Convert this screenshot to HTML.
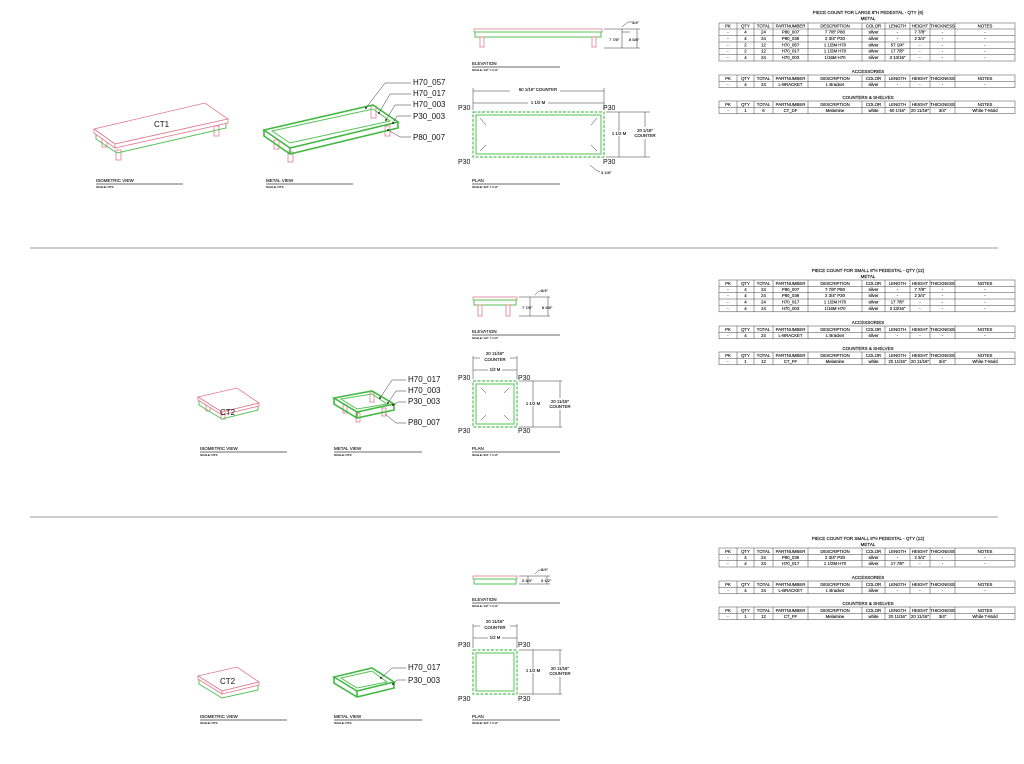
<!DOCTYPE html>
<html><head><meta charset="utf-8"><style>
html,body{margin:0;padding:0;background:#fff;}
svg{display:block}
text{font-family:"Liberation Sans",sans-serif;fill:#111}
.t{font-size:4.3px;text-anchor:middle;stroke:#111;stroke-width:0.12}
.h{font-size:4.5px;text-anchor:middle;stroke:#111;stroke-width:0.15}
.lb{font-size:8px}
.vl{font-size:7px}
.sc{font-size:3px;stroke:#111;stroke-width:0.1}
.pk{stroke:#e07a8e;fill:#fff;stroke-width:0.8}
.gr{stroke:#55c255;fill:none;stroke-width:1}
.grt{stroke:#44b844;fill:none;stroke-width:1.6}
.ln{stroke:#333;stroke-width:0.5;fill:none}
.ul{stroke:#888;stroke-width:1.2}
.tb{stroke:#444;stroke-width:0.5;fill:none}
.dash{stroke:#55c255;stroke-width:1.2;fill:none;stroke-dasharray:3 1.5}
</style></head><body>
<svg width="1024" height="764" viewBox="0 0 1024 764" xmlns="http://www.w3.org/2000/svg">
<rect width="1024" height="764" fill="#fff"/>
<line x1="30" y1="248" x2="998" y2="248" stroke="#999" stroke-width="1"/>
<line x1="30" y1="517" x2="998" y2="517" stroke="#999" stroke-width="1"/>

<!-- SECTION 1 -->
<rect x="102" y="138" width="5" height="9" class="pk"/>
<rect x="116" y="150" width="5" height="10" class="pk"/>
<rect x="214" y="126" width="5" height="10" class="pk"/>
<polygon points="96,133 117,147 226,122 226,128 117,153 96,139" class="gr" fill="#fff"/>
<polygon points="94,129 205,103 228,119 115,144" class="pk"/>
<polygon points="94,129 115,144 115,148 94,133" class="pk"/>
<polygon points="115,144 228,119 228,123 115,148" class="pk" fill="#f4c8d0"/>
<text x="154" y="127" class="lb">CT1</text>
<text x="96" y="182" class="sc" style="font-size:4.5px">ISOMETRIC VIEW</text>
<line x1="96" y1="184" x2="183" y2="184" class="ul"/>
<text x="96" y="188" class="sc">SCALE: NTS</text>

<rect x="274" y="140" width="5" height="9" class="pk"/>
<rect x="288" y="152" width="5" height="10" class="pk"/>
<rect x="371" y="106" width="5" height="12" class="pk"/>
<rect x="385" y="126" width="5" height="10" class="pk"/>
<polygon points="264,130 373,105 398,122 290,148" class="grt"/>
<polygon points="272,131 373,109 390,121 290,143" class="gr"/>
<polyline points="264,130 264,136 290,154 398,128 398,122" class="grt"/>
<line x1="290" y1="148" x2="290" y2="154" class="grt"/>
<g class="ln">
<polyline points="411,83 385,83 366,108"/>
<polyline points="411,94 390,94 379,113"/>
<polyline points="411,105 395,105 386,120"/>
<polyline points="411,116 397,116 393,123"/>
<polyline points="411,137 400,137 388,130"/>
</g>
<circle cx="366" cy="108" r="0.9" fill="#000"/><circle cx="379" cy="113" r="0.9" fill="#000"/><circle cx="386" cy="120" r="0.9" fill="#000"/><circle cx="393" cy="123" r="0.9" fill="#000"/><circle cx="388" cy="130" r="0.9" fill="#000"/>
<text x="413" y="85" class="lb">H70_057</text>
<text x="413" y="96" class="lb">H70_017</text>
<text x="413" y="107" class="lb">H70_003</text>
<text x="413" y="119" class="lb">P30_003</text>
<text x="413" y="140" class="lb">P80_007</text>
<text x="266" y="182" class="sc" style="font-size:4.5px">METAL VIEW</text>
<line x1="266" y1="184" x2="353" y2="184" class="ul"/>
<text x="266" y="188" class="sc">SCALE: NTS</text>

<rect x="474" y="29" width="128" height="3" class="pk"/>
<rect x="475" y="32" width="126" height="5" class="gr"/>
<rect x="480" y="37" width="4" height="10" class="pk"/>
<rect x="592" y="37" width="4" height="10" class="pk"/>
<g class="ln">
<line x1="604" y1="29" x2="640" y2="29"/><line x1="604" y1="48" x2="640" y2="48"/>
<line x1="622" y1="29" x2="622" y2="48"/><line x1="637" y1="29" x2="637" y2="48"/>
<line x1="622" y1="32" x2="630" y2="32"/><polyline points="622,27 628,22 632,22"/>
</g>
<text x="632" y="24" class="sc" style="font-size:4px">3/4"</text>
<text x="609" y="41" class="sc" style="font-size:4px">7 7/8"</text>
<text x="629" y="41" class="sc" style="font-size:4px">8 5/8"</text>
<text x="472" y="65" class="sc" style="font-size:4.5px">ELEVATION</text>
<line x1="472" y1="67" x2="560" y2="67" class="ul"/>
<text x="472" y="71" class="sc">SCALE: 1/2" = 1'-0"</text>

<rect x="473" y="112" width="131" height="45" class="dash"/>
<rect x="476" y="115" width="125" height="39" class="gr" stroke-width="0.6"/>
<g class="ln">
<line x1="473" y1="91" x2="604" y2="91"/><line x1="473" y1="103" x2="604" y2="103"/>
<line x1="473" y1="88" x2="473" y2="110"/><line x1="604" y1="88" x2="604" y2="110"/>
<line x1="606" y1="112" x2="650" y2="112"/><line x1="606" y1="157" x2="650" y2="157"/>
<line x1="619" y1="112" x2="619" y2="157"/><line x1="645" y1="112" x2="645" y2="157"/>
<polyline points="590,165 596,170 600,172"/>
<line x1="480" y1="118" x2="486" y2="125"/><line x1="597" y1="118" x2="591" y2="125"/>
<line x1="480" y1="151" x2="486" y2="145"/><line x1="597" y1="151" x2="591" y2="145"/>
</g>
<rect x="510" y="88" width="50" height="5" fill="#fff"/>
<text x="538" y="91" class="t">60 1/16" COUNTER</text>
<rect x="528" y="100" width="20" height="5" fill="#fff"/>
<text x="538" y="104" class="t">1 1/2 M</text>
<rect x="610" y="131" width="18" height="5" fill="#fff"/>
<text x="619" y="135" class="t">1 1/2 M</text>
<rect x="634" y="127" width="24" height="12" fill="#fff"/>
<text x="645" y="132" class="t">20 1/16"</text><text x="645" y="137" class="t">COUNTER</text>
<text x="601" y="174" class="sc" style="font-size:4px">3 1/8"</text>
<text x="458" y="110" class="vl">P30</text><text x="603" y="110" class="vl">P30</text>
<text x="458" y="164" class="vl">P30</text><text x="603" y="164" class="vl">P30</text>
<text x="472" y="182" class="sc" style="font-size:4.5px">PLAN</text>
<line x1="472" y1="184" x2="560" y2="184" class="ul"/>
<text x="472" y="188" class="sc">SCALE: 3/4" = 1'-0"</text>

<!-- SECTION 2 -->
<rect x="206" y="403" width="4" height="8" class="pk"/>
<rect x="221" y="410" width="4" height="9" class="pk"/>
<rect x="245" y="399" width="4" height="8" class="pk"/>
<polygon points="199,400 222,414 258,405 258,410 222,419 199,405" class="gr" fill="#fff"/>
<polygon points="198,397 237,388 259,403 222,412" class="pk"/>
<polygon points="198,397 222,412 222,415 198,400" class="pk"/>
<polygon points="222,412 259,403 259,406 222,415" class="pk" fill="#f4c8d0"/>
<text x="220" y="415" class="lb">CT2</text>
<text x="200" y="450" class="sc" style="font-size:4.5px">ISOMETRIC VIEW</text>
<line x1="200" y1="452" x2="287" y2="452" class="ul"/>
<text x="200" y="456" class="sc">SCALE: NTS</text>

<rect x="343" y="405" width="4" height="8" class="pk"/>
<rect x="356" y="413" width="4" height="9" class="pk"/>
<rect x="370" y="392" width="4" height="10" class="pk"/>
<rect x="382" y="408" width="4" height="8" class="pk"/>
<polygon points="334,398 372,391 394,404 357,412" class="grt"/>
<polygon points="341,399 372,394 387,404 357,409" class="gr"/>
<polyline points="334,398 334,404 357,418 394,410 394,404" class="grt"/>
<line x1="357" y1="412" x2="357" y2="418" class="grt"/>
<g class="ln">
<polyline points="406,380 392,380 380,398"/>
<polyline points="406,391 396,391 388,403"/>
<polyline points="406,402 398,402 393,405"/>
<polyline points="406,423 396,423 385,414"/>
</g>
<circle cx="380" cy="398" r="0.9" fill="#000"/><circle cx="388" cy="403" r="0.9" fill="#000"/><circle cx="393" cy="405" r="0.9" fill="#000"/>
<text x="408" y="382" class="lb">H70_017</text>
<text x="408" y="393" class="lb">H70_003</text>
<text x="408" y="404" class="lb">P30_003</text>
<text x="408" y="425" class="lb">P80_007</text>
<text x="334" y="450" class="sc" style="font-size:4.5px">METAL VIEW</text>
<line x1="334" y1="452" x2="422" y2="452" class="ul"/>
<text x="334" y="456" class="sc">SCALE: NTS</text>

<rect x="473" y="297" width="44" height="3" class="pk"/>
<rect x="474" y="300" width="42" height="5" class="gr"/>
<rect x="478" y="305" width="4" height="11" class="pk"/>
<rect x="506" y="305" width="4" height="11" class="pk"/>
<g class="ln">
<line x1="519" y1="297" x2="550" y2="297"/><line x1="519" y1="316" x2="550" y2="316"/>
<line x1="530" y1="297" x2="530" y2="316"/><line x1="548" y1="297" x2="548" y2="316"/>
<polyline points="535,295 539,291 542,291"/>
</g>
<text x="541" y="292" class="sc" style="font-size:4px">3/4"</text>
<text x="522" y="309" class="sc" style="font-size:4px">7 7/8"</text>
<text x="542" y="309" class="sc" style="font-size:4px">8 5/8"</text>
<text x="472" y="333" class="sc" style="font-size:4.5px">ELEVATION</text>
<line x1="472" y1="335" x2="560" y2="335" class="ul"/>
<text x="472" y="339" class="sc">SCALE: 1/2" = 1'-0"</text>

<rect x="473" y="381" width="44" height="46" class="dash"/>
<rect x="476" y="384" width="38" height="40" class="gr" stroke-width="0.6"/>
<g class="ln">
<line x1="473" y1="358" x2="517" y2="358"/><line x1="473" y1="370" x2="517" y2="370"/>
<line x1="473" y1="356" x2="473" y2="379"/><line x1="517" y1="356" x2="517" y2="379"/>
<line x1="519" y1="381" x2="562" y2="381"/><line x1="519" y1="427" x2="562" y2="427"/>
<line x1="533" y1="381" x2="533" y2="427"/><line x1="560" y1="381" x2="560" y2="427"/>
<line x1="481" y1="388" x2="486" y2="393"/><line x1="509" y1="388" x2="504" y2="393"/>
<line x1="481" y1="420" x2="486" y2="415"/><line x1="509" y1="420" x2="504" y2="415"/>
</g>
<rect x="480" y="350" width="30" height="12" fill="#fff"/>
<text x="495" y="355" class="t">20 11/16"</text><text x="495" y="361" class="t">COUNTER</text>
<rect x="488" y="367" width="14" height="5" fill="#fff"/>
<text x="495" y="371" class="t">1/2 M</text>
<rect x="524" y="401" width="18" height="5" fill="#fff"/>
<text x="533" y="405" class="t">1 1/2 M</text>
<rect x="548" y="398" width="25" height="12" fill="#fff"/>
<text x="560" y="403" class="t">20 11/16"</text><text x="560" y="408" class="t">COUNTER</text>
<text x="458" y="380" class="vl">P30</text><text x="518" y="380" class="vl">P30</text>
<text x="458" y="433" class="vl">P30</text><text x="518" y="433" class="vl">P30</text>
<text x="472" y="450" class="sc" style="font-size:4.5px">PLAN</text>
<line x1="472" y1="452" x2="560" y2="452" class="ul"/>
<text x="472" y="456" class="sc">SCALE: 3/4" = 1'-0"</text>

<!-- SECTION 3 -->
<polygon points="199,679 222,693 258,685 258,690 222,698 199,684" class="gr" fill="#fff"/>
<polygon points="198,676 237,667 259,682 222,691" class="pk"/>
<polygon points="198,676 222,691 222,694 198,679" class="pk"/>
<polygon points="222,691 259,682 259,685 222,694" class="pk" fill="#f4c8d0"/>
<text x="220" y="684" class="lb">CT2</text>
<text x="200" y="718" class="sc" style="font-size:4.5px">ISOMETRIC VIEW</text>
<line x1="200" y1="720" x2="287" y2="720" class="ul"/>
<text x="200" y="724" class="sc">SCALE: NTS</text>

<polygon points="334,677 372,668 394,682 357,691" class="grt"/>
<polygon points="341,678 372,671 387,682 357,688" class="gr"/>
<polyline points="334,677 334,683 357,697 394,688 394,682" class="grt"/>
<line x1="357" y1="691" x2="357" y2="697" class="grt"/>
<g class="ln">
<polyline points="406,668 392,668 381,678"/>
<polyline points="406,680 397,680 393,684"/>
</g>
<circle cx="381" cy="678" r="0.9" fill="#000"/><circle cx="393" cy="684" r="0.9" fill="#000"/>
<text x="408" y="670" class="lb">H70_017</text>
<text x="408" y="683" class="lb">P30_003</text>
<text x="334" y="718" class="sc" style="font-size:4.5px">METAL VIEW</text>
<line x1="334" y1="720" x2="422" y2="720" class="ul"/>
<text x="334" y="724" class="sc">SCALE: NTS</text>

<rect x="473" y="576" width="44" height="3" class="pk"/>
<rect x="474" y="579" width="42" height="5" class="gr"/>
<g class="ln">
<line x1="519" y1="576" x2="550" y2="576"/><line x1="519" y1="584" x2="550" y2="584"/>
<line x1="528" y1="576" x2="528" y2="584"/><line x1="547" y1="576" x2="547" y2="584"/>
<polyline points="535,574 539,570 542,570"/>
</g>
<text x="541" y="571" class="sc" style="font-size:4px">3/4"</text>
<text x="522" y="582" class="sc" style="font-size:4px">2 3/4"</text>
<text x="541" y="582" class="sc" style="font-size:4px">3 1/2"</text>
<text x="472" y="601" class="sc" style="font-size:4.5px">ELEVATION</text>
<line x1="472" y1="603" x2="560" y2="603" class="ul"/>
<text x="472" y="607" class="sc">SCALE: 1/2" = 1'-0"</text>

<rect x="473" y="650" width="44" height="44" class="dash"/>
<rect x="476" y="653" width="38" height="38" class="gr" stroke-width="0.6"/>
<g class="ln">
<line x1="473" y1="626" x2="517" y2="626"/><line x1="473" y1="638" x2="517" y2="638"/>
<line x1="473" y1="624" x2="473" y2="648"/><line x1="517" y1="624" x2="517" y2="648"/>
<line x1="519" y1="650" x2="562" y2="650"/><line x1="519" y1="694" x2="562" y2="694"/>
<line x1="533" y1="650" x2="533" y2="694"/><line x1="560" y1="650" x2="560" y2="694"/>
</g>
<rect x="480" y="618" width="30" height="12" fill="#fff"/>
<text x="495" y="623" class="t">20 11/16"</text><text x="495" y="629" class="t">COUNTER</text>
<rect x="488" y="635" width="14" height="5" fill="#fff"/>
<text x="495" y="639" class="t">1/2 M</text>
<rect x="524" y="668" width="18" height="5" fill="#fff"/>
<text x="533" y="672" class="t">1 1/2 M</text>
<rect x="548" y="665" width="25" height="12" fill="#fff"/>
<text x="560" y="670" class="t">20 11/16"</text><text x="560" y="675" class="t">COUNTER</text>
<text x="458" y="647" class="vl">P30</text><text x="518" y="647" class="vl">P30</text>
<text x="458" y="701" class="vl">P30</text><text x="518" y="701" class="vl">P30</text>
<text x="472" y="718" class="sc" style="font-size:4.5px">PLAN</text>
<line x1="472" y1="720" x2="560" y2="720" class="ul"/>
<text x="472" y="724" class="sc">SCALE: 3/4" = 1'-0"</text>

<!-- TABLES -->
<defs>
<g id="hdr">
<text x="728" class="t">PK</text><text x="745.5" class="t">QTY</text><text x="763.5" class="t">TOTAL</text><text x="790.5" class="t">PARTNUMBER</text><text x="835" class="t">DESCRIPTION</text><text x="873.5" class="t">COLOR</text><text x="897.5" class="t">LENGTH</text><text x="920" class="t">HEIGHT</text><text x="942.5" class="t">THICKNESS</text><text x="985" class="t">NOTES</text>
</g>
<g id="cols">
<line x1="737" y1="0" x2="737" y2="1"/><line x1="754" y1="0" x2="754" y2="1"/><line x1="773" y1="0" x2="773" y2="1"/><line x1="808" y1="0" x2="808" y2="1"/><line x1="862" y1="0" x2="862" y2="1"/><line x1="885" y1="0" x2="885" y2="1"/><line x1="910" y1="0" x2="910" y2="1"/><line x1="930" y1="0" x2="930" y2="1"/><line x1="955" y1="0" x2="955" y2="1"/>
</g>
</defs>

<text x="868" y="14" class="h">PIECE COUNT FOR LARGE 8"H PEDESTAL - QTY (6)</text>
<text x="868" y="20" class="h">METAL</text>
<g class="tb">
<rect x="719" y="23" width="296" height="38"/>
<line x1="719" y1="29" x2="1015" y2="29"/><line x1="719" y1="35.5" x2="1015" y2="35.5"/><line x1="719" y1="42" x2="1015" y2="42"/><line x1="719" y1="48.3" x2="1015" y2="48.3"/><line x1="719" y1="54.6" x2="1015" y2="54.6"/>
</g>
<use href="#cols" transform="translate(0,23) scale(1,38)" style="stroke:#444;stroke-width:0.5;vector-effect:non-scaling-stroke"/>
<use href="#hdr" y="27.5"/>
<text x="728" y="33.5" class="t">-</text><text x="745.5" y="33.5" class="t">4</text><text x="763.5" y="33.5" class="t">24</text><text x="790.5" y="33.5" class="t">P80_007</text><text x="835" y="33.5" class="t">7 7/8" P80</text><text x="873.5" y="33.5" class="t">silver</text><text x="897.5" y="33.5" class="t">-</text><text x="920" y="33.5" class="t">7 7/8"</text><text x="942.5" y="33.5" class="t">-</text><text x="985" y="33.5" class="t">-</text>
<text x="728" y="40" class="t">-</text><text x="745.5" y="40" class="t">4</text><text x="763.5" y="40" class="t">24</text><text x="790.5" y="40" class="t">P80_036</text><text x="835" y="40" class="t">2 3/4" P30</text><text x="873.5" y="40" class="t">silver</text><text x="897.5" y="40" class="t">-</text><text x="920" y="40" class="t">2 3/4"</text><text x="942.5" y="40" class="t">-</text><text x="985" y="40" class="t">-</text>
<text x="728" y="46.3" class="t">-</text><text x="745.5" y="46.3" class="t">2</text><text x="763.5" y="46.3" class="t">12</text><text x="790.5" y="46.3" class="t">H70_057</text><text x="835" y="46.3" class="t">1 1/2M H70</text><text x="873.5" y="46.3" class="t">silver</text><text x="897.5" y="46.3" class="t">57 1/4"</text><text x="920" y="46.3" class="t">-</text><text x="942.5" y="46.3" class="t">-</text><text x="985" y="46.3" class="t">-</text>
<text x="728" y="52.6" class="t">-</text><text x="745.5" y="52.6" class="t">2</text><text x="763.5" y="52.6" class="t">12</text><text x="790.5" y="52.6" class="t">H70_017</text><text x="835" y="52.6" class="t">1 1/2M H70</text><text x="873.5" y="52.6" class="t">silver</text><text x="897.5" y="52.6" class="t">17 7/8"</text><text x="920" y="52.6" class="t">-</text><text x="942.5" y="52.6" class="t">-</text><text x="985" y="52.6" class="t">-</text>
<text x="728" y="59" class="t">-</text><text x="745.5" y="59" class="t">4</text><text x="763.5" y="59" class="t">24</text><text x="790.5" y="59" class="t">H70_003</text><text x="835" y="59" class="t">1/16M H70</text><text x="873.5" y="59" class="t">silver</text><text x="897.5" y="59" class="t">3 13/16"</text><text x="920" y="59" class="t">-</text><text x="942.5" y="59" class="t">-</text><text x="985" y="59" class="t">-</text>
<text x="868" y="73" class="h">ACCESSORIES</text>
<g class="tb"><rect x="719" y="75" width="296" height="12.6"/><line x1="719" y1="81.3" x2="1015" y2="81.3"/></g>
<use href="#cols" transform="translate(0,75) scale(1,12.6)" style="stroke:#444;stroke-width:0.5;vector-effect:non-scaling-stroke"/>
<use href="#hdr" y="79.8"/>
<text x="728" y="85.8" class="t">-</text><text x="745.5" y="85.8" class="t">4</text><text x="763.5" y="85.8" class="t">24</text><text x="790.5" y="85.8" class="t">L-BRACKET</text><text x="835" y="85.8" class="t">L Bracket</text><text x="873.5" y="85.8" class="t">silver</text><text x="897.5" y="85.8" class="t">-</text><text x="920" y="85.8" class="t">-</text><text x="942.5" y="85.8" class="t">-</text><text x="985" y="85.8" class="t">-</text>
<text x="868" y="99" class="h">COUNTERS &amp; SHELVES</text>
<g class="tb"><rect x="719" y="101" width="296" height="12.6"/><line x1="719" y1="107.3" x2="1015" y2="107.3"/></g>
<use href="#cols" transform="translate(0,101) scale(1,12.6)" style="stroke:#444;stroke-width:0.5;vector-effect:non-scaling-stroke"/>
<use href="#hdr" y="105.8"/>
<text x="728" y="111.8" class="t">-</text><text x="745.5" y="111.8" class="t">1</text><text x="763.5" y="111.8" class="t">6</text><text x="790.5" y="111.8" class="t">CT_DF</text><text x="835" y="111.8" class="t">Melamine</text><text x="873.5" y="111.8" class="t">white</text><text x="897.5" y="111.8" class="t">60 1/16"</text><text x="920" y="111.8" class="t">20 11/16"</text><text x="942.5" y="111.8" class="t">3/4"</text><text x="985" y="111.8" class="t">White T-Mold</text>

<text x="868" y="272" class="h">PIECE COUNT FOR SMALL 8"H PEDESTAL - QTY (12)</text>
<text x="868" y="278" class="h">METAL</text>
<g class="tb">
<rect x="719" y="280" width="296" height="31.8"/>
<line x1="719" y1="286.3" x2="1015" y2="286.3"/><line x1="719" y1="292.6" x2="1015" y2="292.6"/><line x1="719" y1="299" x2="1015" y2="299"/><line x1="719" y1="305.4" x2="1015" y2="305.4"/>
</g>
<use href="#cols" transform="translate(0,280) scale(1,31.8)" style="stroke:#444;stroke-width:0.5;vector-effect:non-scaling-stroke"/>
<use href="#hdr" y="284.8"/>
<text x="728" y="290.8" class="t">-</text><text x="745.5" y="290.8" class="t">4</text><text x="763.5" y="290.8" class="t">24</text><text x="790.5" y="290.8" class="t">P80_007</text><text x="835" y="290.8" class="t">7 7/8" P80</text><text x="873.5" y="290.8" class="t">silver</text><text x="897.5" y="290.8" class="t">-</text><text x="920" y="290.8" class="t">7 7/8"</text><text x="942.5" y="290.8" class="t">-</text><text x="985" y="290.8" class="t">-</text>
<text x="728" y="297.1" class="t">-</text><text x="745.5" y="297.1" class="t">4</text><text x="763.5" y="297.1" class="t">24</text><text x="790.5" y="297.1" class="t">P80_036</text><text x="835" y="297.1" class="t">2 3/4" P30</text><text x="873.5" y="297.1" class="t">silver</text><text x="897.5" y="297.1" class="t">-</text><text x="920" y="297.1" class="t">2 3/4"</text><text x="942.5" y="297.1" class="t">-</text><text x="985" y="297.1" class="t">-</text>
<text x="728" y="303.5" class="t">-</text><text x="745.5" y="303.5" class="t">4</text><text x="763.5" y="303.5" class="t">24</text><text x="790.5" y="303.5" class="t">H70_017</text><text x="835" y="303.5" class="t">1 1/2M H70</text><text x="873.5" y="303.5" class="t">silver</text><text x="897.5" y="303.5" class="t">17 7/8"</text><text x="920" y="303.5" class="t">-</text><text x="942.5" y="303.5" class="t">-</text><text x="985" y="303.5" class="t">-</text>
<text x="728" y="309.9" class="t">-</text><text x="745.5" y="309.9" class="t">4</text><text x="763.5" y="309.9" class="t">24</text><text x="790.5" y="309.9" class="t">H70_003</text><text x="835" y="309.9" class="t">1/16M H70</text><text x="873.5" y="309.9" class="t">silver</text><text x="897.5" y="309.9" class="t">3 13/16"</text><text x="920" y="309.9" class="t">-</text><text x="942.5" y="309.9" class="t">-</text><text x="985" y="309.9" class="t">-</text>
<text x="868" y="324" class="h">ACCESSORIES</text>
<g class="tb"><rect x="719" y="326" width="296" height="12.6"/><line x1="719" y1="332.3" x2="1015" y2="332.3"/></g>
<use href="#cols" transform="translate(0,326) scale(1,12.6)" style="stroke:#444;stroke-width:0.5;vector-effect:non-scaling-stroke"/>
<use href="#hdr" y="330.8"/>
<text x="728" y="336.8" class="t">-</text><text x="745.5" y="336.8" class="t">4</text><text x="763.5" y="336.8" class="t">24</text><text x="790.5" y="336.8" class="t">L-BRACKET</text><text x="835" y="336.8" class="t">L Bracket</text><text x="873.5" y="336.8" class="t">silver</text><text x="897.5" y="336.8" class="t">-</text><text x="920" y="336.8" class="t">-</text><text x="942.5" y="336.8" class="t">-</text><text x="985" y="336.8" class="t">-</text>
<text x="868" y="350" class="h">COUNTERS &amp; SHELVES</text>
<g class="tb"><rect x="719" y="352" width="296" height="12.6"/><line x1="719" y1="358.3" x2="1015" y2="358.3"/></g>
<use href="#cols" transform="translate(0,352) scale(1,12.6)" style="stroke:#444;stroke-width:0.5;vector-effect:non-scaling-stroke"/>
<use href="#hdr" y="356.8"/>
<text x="728" y="362.8" class="t">-</text><text x="745.5" y="362.8" class="t">1</text><text x="763.5" y="362.8" class="t">12</text><text x="790.5" y="362.8" class="t">CT_FF</text><text x="835" y="362.8" class="t">Melamine</text><text x="873.5" y="362.8" class="t">white</text><text x="897.5" y="362.8" class="t">20 11/16"</text><text x="920" y="362.8" class="t">20 11/16"</text><text x="942.5" y="362.8" class="t">3/4"</text><text x="985" y="362.8" class="t">White T-Mold</text>

<text x="868" y="540" class="h">PIECE COUNT FOR SMALL 8"H PEDESTAL - QTY (12)</text>
<text x="868" y="546" class="h">METAL</text>
<g class="tb">
<rect x="719" y="548" width="296" height="19"/>
<line x1="719" y1="554.3" x2="1015" y2="554.3"/><line x1="719" y1="560.6" x2="1015" y2="560.6"/>
</g>
<use href="#cols" transform="translate(0,548) scale(1,19)" style="stroke:#444;stroke-width:0.5;vector-effect:non-scaling-stroke"/>
<use href="#hdr" y="552.8"/>
<text x="728" y="558.8" class="t">-</text><text x="745.5" y="558.8" class="t">4</text><text x="763.5" y="558.8" class="t">24</text><text x="790.5" y="558.8" class="t">P80_036</text><text x="835" y="558.8" class="t">2 3/4" P30</text><text x="873.5" y="558.8" class="t">silver</text><text x="897.5" y="558.8" class="t">-</text><text x="920" y="558.8" class="t">2 3/4"</text><text x="942.5" y="558.8" class="t">-</text><text x="985" y="558.8" class="t">-</text>
<text x="728" y="565.1" class="t">-</text><text x="745.5" y="565.1" class="t">4</text><text x="763.5" y="565.1" class="t">24</text><text x="790.5" y="565.1" class="t">H70_017</text><text x="835" y="565.1" class="t">1 1/2M H70</text><text x="873.5" y="565.1" class="t">silver</text><text x="897.5" y="565.1" class="t">17 7/8"</text><text x="920" y="565.1" class="t">-</text><text x="942.5" y="565.1" class="t">-</text><text x="985" y="565.1" class="t">-</text>
<text x="868" y="579" class="h">ACCESSORIES</text>
<g class="tb"><rect x="719" y="581" width="296" height="12.6"/><line x1="719" y1="587.3" x2="1015" y2="587.3"/></g>
<use href="#cols" transform="translate(0,581) scale(1,12.6)" style="stroke:#444;stroke-width:0.5;vector-effect:non-scaling-stroke"/>
<use href="#hdr" y="585.8"/>
<text x="728" y="591.8" class="t">-</text><text x="745.5" y="591.8" class="t">4</text><text x="763.5" y="591.8" class="t">24</text><text x="790.5" y="591.8" class="t">L-BRACKET</text><text x="835" y="591.8" class="t">L Bracket</text><text x="873.5" y="591.8" class="t">silver</text><text x="897.5" y="591.8" class="t">-</text><text x="920" y="591.8" class="t">-</text><text x="942.5" y="591.8" class="t">-</text><text x="985" y="591.8" class="t">-</text>
<text x="868" y="605" class="h">COUNTERS &amp; SHELVES</text>
<g class="tb"><rect x="719" y="607" width="296" height="12.6"/><line x1="719" y1="613.3" x2="1015" y2="613.3"/></g>
<use href="#cols" transform="translate(0,607) scale(1,12.6)" style="stroke:#444;stroke-width:0.5;vector-effect:non-scaling-stroke"/>
<use href="#hdr" y="611.8"/>
<text x="728" y="617.8" class="t">-</text><text x="745.5" y="617.8" class="t">1</text><text x="763.5" y="617.8" class="t">12</text><text x="790.5" y="617.8" class="t">CT_FF</text><text x="835" y="617.8" class="t">Melamine</text><text x="873.5" y="617.8" class="t">white</text><text x="897.5" y="617.8" class="t">20 11/16"</text><text x="920" y="617.8" class="t">20 11/16"</text><text x="942.5" y="617.8" class="t">3/4"</text><text x="985" y="617.8" class="t">White T-Mold</text>
</svg>
</body></html>
